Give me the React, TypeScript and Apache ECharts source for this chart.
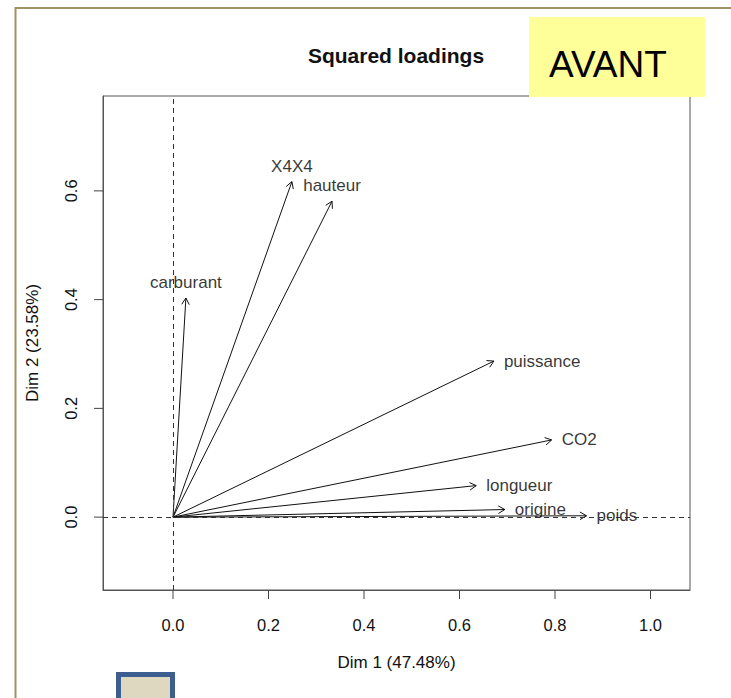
import React, { useEffect, useRef } from "react";
import * as echarts from "echarts";

const varNames = ["carburant", "X4X4", "hauteur", "puissance", "CO2", "longueur", "origine", "poids"];
const dim1 = [0.027, 0.249, 0.333, 0.672, 0.793, 0.635, 0.695, 0.866];
const dim2 = [0.403, 0.617, 0.581, 0.287, 0.142, 0.058, 0.014, 0.0025];
const xTicks = [0, 0.2, 0.4, 0.6, 0.8, 1.0];
const yTicks = [0, 0.2, 0.4, 0.6];
const titleText = "Squared loadings";
const xTitle = "Dim 1 (47.48%)";
const yTitle = "Dim 2 (23.58%)";
const stampText = "AVANT";

const FONT = "'Liberation Sans', Arial, sans-serif";
const TICK_LEN = 9;
const X_MIN = -0.1466;
const Y_MIN = -0.134;

export default function App() {
  const ref = useRef<HTMLDivElement>(null);
  useEffect(() => {
    if (!ref.current) return;
    const chart = echarts.init(ref.current, null, { renderer: "svg" });
    const points = varNames.map((n, i) => ({ name: n, value: [dim1[i], dim2[i]] }));
    const labelPoints = varNames.map((n, i) => {
      const ang = Math.atan2(dim2[i], dim1[i]);
      const above = ang > Math.PI / 4;
      return {
        name: n,
        value: [dim1[i], dim2[i]],
        label: above
          ? { position: "top", distance: 7 }
          : { position: "right", distance: 10 },
      };
    });
    chart.setOption({
      animation: false,
      textStyle: { fontFamily: FONT },
      title: {
        text: titleText,
        left: 391,
        top: 40,
        textAlign: "center",
        textStyle: { fontFamily: FONT, fontSize: 21, fontWeight: "bold", color: "#111" },
      },
      grid: {
        left: 103,
        top: 96,
        width: 587,
        height: 494,
        show: true,
        borderColor: "#555",
        borderWidth: 1,
        backgroundColor: "transparent",
      },
      xAxis: {
        type: "value",
        min: X_MIN,
        max: 1.0827,
        name: xTitle,
        nameLocation: "middle",
        nameGap: 64,
        nameTextStyle: { fontFamily: FONT, fontSize: 17, color: "#111" },
        axisLine: { show: true, onZero: false, lineStyle: { color: "#555", width: 1 } },
        axisTick: { show: false },
        axisLabel: {
          show: true,
          margin: 26,
          fontSize: 16.5,
          fontFamily: FONT,
          color: "#111",
          customValues: xTicks,
          formatter: (v: number) => v.toFixed(1),
        },
        splitLine: { show: false },
      },
      yAxis: {
        type: "value",
        min: Y_MIN,
        max: 0.7745,
        name: yTitle,
        nameLocation: "middle",
        nameRotate: 90,
        nameGap: 62,
        nameTextStyle: { fontFamily: FONT, fontSize: 17, color: "#111" },
        axisLine: { show: true, onZero: false, lineStyle: { color: "#555", width: 1 } },
        axisTick: { show: false },
        axisLabel: {
          show: true,
          margin: 24,
          rotate: 90,
          fontSize: 16.5,
          fontFamily: FONT,
          color: "#111",
          customValues: yTicks,
          formatter: (v: number) => v.toFixed(1),
        },
        splitLine: { show: false },
      },
      series: [
        {
          type: "scatter",
          data: [[0, 0]],
          symbolSize: 0,
          silent: true,
          markLine: {
            silent: true,
            symbol: ["none", "none"],
            label: { show: false },
            lineStyle: { color: "#333", type: [5, 4], width: 1 },
            data: [{ xAxis: 0 }, { yAxis: 0 }],
          },
        },
        {
          type: "custom",
          data: points,
          silent: true,
          renderItem: (params: any, api: any) => {
            const x = api.value(0);
            const y = api.value(1);
            const o = api.coord([0, 0]);
            const p = api.coord([x, y]);
            const ang = Math.atan2(p[1] - o[1], p[0] - o[0]);
            const L = 7.5;
            const a = Math.PI / 6;
            const h1 = [p[0] - L * Math.cos(ang - a), p[1] - L * Math.sin(ang - a)];
            const h2 = [p[0] - L * Math.cos(ang + a), p[1] - L * Math.sin(ang + a)];
            return {
              type: "group",
              children: [
                {
                  type: "line",
                  shape: { x1: o[0], y1: o[1], x2: p[0], y2: p[1] },
                  style: { stroke: "#111", lineWidth: 1 },
                },
                {
                  type: "polyline",
                  shape: { points: [h1, p, h2] },
                  style: { stroke: "#111", fill: "none", lineWidth: 1 },
                },
              ],
            };
          },
        },
        {
          type: "scatter",
          data: labelPoints,
          symbolSize: 0,
          silent: true,
          label: {
            show: true,
            formatter: (p: any) => p.name,
            fontFamily: FONT,
            fontSize: 17,
            color: "#000",
          },
        },
      ],
    });

    const graphicEls: any[] = [
      {
        type: "rect",
        id: "frame",
        z: 100,
        silent: true,
        shape: { x: 15.5, y: 8, width: 900, height: 900 },
        style: { fill: "transparent", stroke: "#9d9463", lineWidth: 2 },
      },
      {
        type: "rect",
        id: "stampBg",
        z: 100,
        silent: true,
        shape: { x: 529, y: 17, width: 176, height: 80 },
        style: { fill: "#ffff99" },
      },
      {
        type: "text",
        id: "stampText",
        z: 101,
        silent: true,
        x: 549,
        y: 64,
        style: {
          text: stampText,
          fontFamily: FONT,
          fontSize: 37,
          fill: "#000",
          textAlign: "left",
          textVerticalAlign: "middle",
        },
      },
      {
        type: "rect",
        id: "smallBox",
        z: 100,
        silent: true,
        shape: { x: 118.5, y: 674.5, width: 54, height: 40 },
        style: { fill: "#ddd8bf", stroke: "#3d5f8f", lineWidth: 5 },
      },
    ];
    // Axis ticks placed through the chart's own scales
    xTicks.forEach((v, i) => {
      const p = chart.convertToPixel({ gridIndex: 0 }, [v, Y_MIN]) as number[];
      graphicEls.push({
        type: "line",
        id: "xt" + i,
        z: 150,
        silent: true,
        shape: { x1: p[0], y1: p[1], x2: p[0], y2: p[1] + TICK_LEN },
        style: { stroke: "#444", lineWidth: 1 },
      });
    });
    yTicks.forEach((v, i) => {
      const p = chart.convertToPixel({ gridIndex: 0 }, [X_MIN, v]) as number[];
      graphicEls.push({
        type: "line",
        id: "yt" + i,
        z: 150,
        silent: true,
        shape: { x1: p[0], y1: p[1], x2: p[0] - TICK_LEN, y2: p[1] },
        style: { stroke: "#444", lineWidth: 1 },
      });
    });
    chart.setOption({ graphic: graphicEls });
    return () => chart.dispose();
  }, []);
  return (
    <div
      ref={ref}
      style={{ position: "absolute", left: 0, top: 0, width: 731, height: 698, background: "#fff" }}
    />
  );
}
